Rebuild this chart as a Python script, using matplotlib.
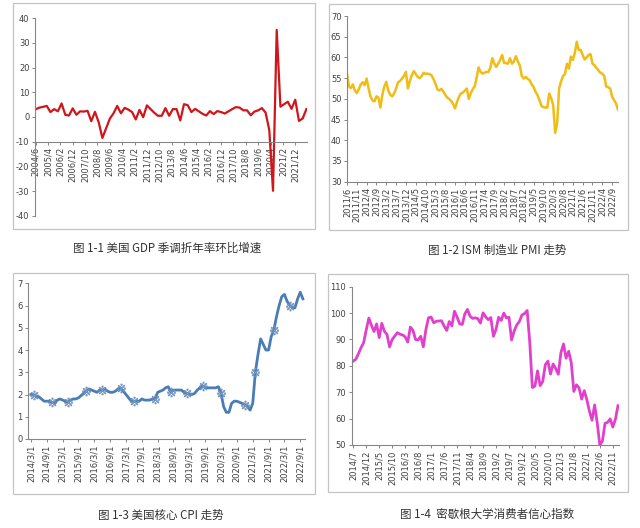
import matplotlib
matplotlib.use("Agg")
import matplotlib.pyplot as plt
from matplotlib.patches import Rectangle

plt.rcParams['font.family'] = ['DejaVu Sans']
plt.rcParams['axes.unicode_minus'] = False

# ---------- DATA ----------

# US GDP, QoQ SAAR (%), quarterly from 2004/6
gdp_start = (2004, 6)
gdp_values = [
    3.1, 3.8, 4.1,
    4.5, 2.0, 3.2, 2.3,
    5.5, 0.9, 0.6, 3.5,
    0.9, 2.3, 2.2, 2.5,
    -1.7, 2.1, -2.1, -8.5,
    -4.6, -0.7, 1.5, 4.5,
    1.5, 3.7, 3.0, 2.0,
    -1.0, 2.9, -0.1, 4.7,
    3.2, 1.7, 0.5, 0.5,
    3.6, 0.5, 3.2, 3.2,
    -1.4, 5.2, 4.8, 2.0,
    3.3, 2.3, 1.3, 0.6,
    2.4, 1.2, 2.4, 2.0,
    1.4, 2.3, 3.2, 4.0,
    3.8, 2.7, 2.7, 0.7,
    2.2, 2.7, 3.6, 1.8,
    -5.3, -29.9, 35.3, 4.2,
    5.2, 6.2, 3.3, 7.0,
    -1.6, -0.6, 3.2,
]

# ISM manufacturing PMI, monthly from 2011/6
pmi_start = (2011, 6)
pmi_values = [
    56.0, 53.0, 52.6, 53.5, 52.0, 51.4, 52.3,
    53.5, 54.0, 53.3, 54.9, 52.5, 50.5, 49.6, 49.4, 50.6, 50.3, 47.9, 51.0,
    53.0, 54.1, 52.0, 51.0, 50.6, 51.3, 52.5, 54.0, 54.3, 54.9, 55.5, 56.5,
    52.5, 54.3, 55.7, 56.7, 56.0, 55.3, 55.0, 55.5, 56.3, 56.0, 56.1, 56.0,
    55.7, 54.8, 53.7, 52.3, 52.0, 52.4, 51.8, 51.0, 50.3, 50.0, 49.5, 48.8,
    47.7, 49.2, 50.5, 51.3, 51.5, 52.0, 52.5, 50.0, 51.3, 52.3, 53.0, 55.0,
    57.6, 56.5, 56.1, 56.3, 56.5, 56.5, 57.5, 59.8, 58.5, 57.7, 58.5, 59.4,
    60.6, 58.7, 58.6, 58.5, 59.8, 58.5, 59.0, 60.3, 59.0, 58.1, 55.5, 54.9,
    55.3, 54.8, 54.5, 53.5, 52.9, 51.7, 50.9, 49.7, 48.3, 48.0, 47.9, 47.9,
    51.3, 50.1, 48.5, 41.8, 44.0, 52.5, 54.2, 55.5, 56.0, 58.5, 57.3, 60.2,
    59.4, 61.0, 63.8, 61.8, 61.8, 60.6, 59.5, 60.0, 60.6, 60.8, 58.5, 58.1,
    57.5, 56.9, 56.3, 56.1, 55.5, 53.0, 52.8, 52.5, 50.5, 49.7, 48.9, 47.4,
]

# US core CPI YoY (%), monthly from 2014/3
cpi_start = (2014, 3)
cpi_values = [
    2.0, 2.0, 1.9, 1.9, 1.8, 1.7, 1.7, 1.7, 1.65, 1.6,
    1.75, 1.8, 1.75, 1.7, 1.65, 1.75, 1.8, 1.8, 1.85, 1.95, 2.05, 2.15,
    2.25, 2.2, 2.15, 2.1, 2.2, 2.2, 2.25, 2.15, 2.1, 2.1, 2.15, 2.25,
    2.3, 2.15, 2.0, 1.85, 1.7, 1.7, 1.7, 1.7, 1.8, 1.75, 1.75, 1.75,
    1.8, 1.8, 2.1, 2.15, 2.2, 2.3, 2.35, 2.1, 2.2, 2.2, 2.2, 2.2,
    2.1, 2.05, 2.0, 2.0, 2.05, 2.2, 2.3, 2.4, 2.3, 2.3, 2.3, 2.3,
    2.3, 2.35, 2.05, 1.45, 1.2, 1.2, 1.6, 1.7, 1.7, 1.65, 1.6, 1.55,
    1.45, 1.3, 1.6, 3.0, 3.8, 4.5, 4.25, 4.0, 4.0, 4.6, 4.9, 5.5,
    6.0, 6.4, 6.5, 6.2, 6.0, 5.9, 5.9, 6.3, 6.6, 6.3,
]
cpi_marker_idx = [1, 8, 14, 21, 27, 34, 39, 47, 53, 59, 65, 72, 81, 85, 92, 98]

# University of Michigan consumer sentiment, monthly from 2014/7
umich_start = (2014, 7)
umich_values = [
    81.8, 82.5, 84.6, 86.9, 88.8, 93.6,
    98.1, 95.4, 93.0, 95.9, 90.7, 96.1, 93.1, 91.9, 87.2, 90.0, 91.3, 92.6,
    92.0, 91.7, 91.0, 89.0, 94.7, 93.5, 90.0, 89.8, 91.2, 87.2, 93.8, 98.2,
    98.5, 96.3, 96.9, 97.0, 97.1, 95.1, 93.4, 96.8, 95.1, 100.7, 98.5, 95.9,
    95.7, 99.7, 101.4, 98.8, 98.0, 98.2, 97.9, 96.2, 100.1, 98.6, 97.5, 98.3,
    91.2, 93.8, 98.4, 97.2, 100.0, 98.2, 98.4, 89.8, 93.2, 95.5, 96.8, 99.3,
    99.8, 101.0, 89.1, 71.8, 72.3, 78.1, 72.5, 74.1, 80.4, 81.8, 76.9, 80.7,
    79.0, 76.8, 84.9, 88.3, 82.9, 85.5, 81.2, 70.3, 72.8, 71.7, 67.4, 70.6,
    67.2, 62.8, 59.4, 65.2, 58.4, 50.0, 51.5, 58.2, 58.6, 59.9, 56.8, 59.7,
    64.9,
]

captions = [
    "图 1-1 美国 GDP 季调折年率环比增速",
    "图 1-2 ISM 制造业 PMI 走势",
    "图 1-3 美国核心 CPI 走势",
    "图 1-4  密歇根大学消费者信心指数",
]

# ---------- HELPERS ----------

W, H = 640, 528
AXIS_GRAY = '#868686'
LABEL_GRAY = '#404040'


def px_axes(fig, left, top, right, bottom):
    return fig.add_axes([left / W, 1 - bottom / H, (right - left) / W, (bottom - top) / H])


def frame(fig, left, top, right, bottom):
    fig.add_artist(Rectangle((left / W, 1 - bottom / H), (right - left) / W, (bottom - top) / H,
                             transform=fig.transFigure, fill=False,
                             edgecolor='#C4C4C4', linewidth=0.9))


def month_label(start, m, suffix=""):
    y, mo = start
    k = (mo - 1) + m
    return f"{y + k // 12}/{k % 12 + 1}{suffix}"


def style_axes(ax, ticks, start, suffix=""):
    for s in ['top', 'right']:
        ax.spines[s].set_visible(False)
    for s in ['left', 'bottom']:
        ax.spines[s].set_color(AXIS_GRAY)
        ax.spines[s].set_linewidth(0.8)
    ax.set_xticks(ticks)
    ax.set_xticklabels([month_label(start, m, suffix) for m in ticks], rotation=90)
    ax.tick_params(labelsize=6, colors=AXIS_GRAY, labelcolor=LABEL_GRAY,
                   length=2.5, width=0.7, pad=1.5)
    ax.patch.set_alpha(0)


# ---------- PLOT ----------

fig = plt.figure(figsize=(W / 100, H / 100), dpi=100)

for box in [(13, 3, 315, 229), (329, 4, 628, 230), (13, 273, 315, 494), (328, 274, 628, 492)]:
    frame(fig, *box)

# Panel 1: GDP (horizontal axis crosses at -10)
ax1 = px_axes(fig, 35, 18.3, 307, 215.7)
ax1.spines['bottom'].set_position(('data', -10))
gdp_x = [3 * i for i in range(len(gdp_values))]
ax1.plot(gdp_x, gdp_values, color='#D0161B', linewidth=1.6)
ax1.set_ylim(-40, 40)
ax1.set_yticks(range(-40, 41, 10))
ax1.set_xlim(-0.5, gdp_x[-1] + 0.5)
style_axes(ax1, list(range(0, 211, 10)), gdp_start)

# Panel 2: ISM PMI
ax2 = px_axes(fig, 347, 16, 618, 181.7)
pmi_x = list(range(len(pmi_values)))
ax2.plot(pmi_x, pmi_values, color='#F0BC16', linewidth=1.8)
ax2.set_ylim(30, 70)
ax2.set_yticks(range(30, 71, 5))
ax2.set_xlim(0, pmi_x[-1])
style_axes(ax2, list(range(0, 136, 5)), pmi_start)

# Panel 3: core CPI
ax3 = px_axes(fig, 28, 283.3, 305, 439)
cpi_x = list(range(len(cpi_values)))
ax3.plot(cpi_x, cpi_values, color='#4A7DB5', linewidth=2.0)
ax3.plot([cpi_x[i] for i in cpi_marker_idx], [cpi_values[i] for i in cpi_marker_idx],
         linestyle='none', marker='$※$', markersize=6.5,
         markerfacecolor='#8CA6C8', markeredgecolor='#5B85B8', markeredgewidth=0.4)
ax3.set_ylim(0, 7)
ax3.set_yticks(range(0, 8))
ax3.set_xlim(-1.1, 103.8)
style_axes(ax3, list(range(0, 103, 6)), cpi_start, "/1")

# Panel 4: Michigan sentiment
ax4 = px_axes(fig, 351.7, 286.7, 618.5, 445)
umich_x = list(range(len(umich_values)))
ax4.plot(umich_x, umich_values, color='#E040CC', linewidth=2.0)
ax4.set_ylim(50, 110)
ax4.set_yticks(range(50, 111, 10))
ax4.set_xlim(-0.6, umich_x[-1] + 0.2)
style_axes(ax4, list(range(0, 101, 5)), umich_start)

# captions
cap_pos = [(167, 248), (497, 250), (161, 515), (487, 514)]
for text, (cx, cy) in zip(captions, cap_pos):
    fig.text(cx / W, 1 - cy / H, text, ha='center', va='center', fontsize=8.3,
             color='#333333', family=['Noto Sans CJK SC', 'DejaVu Sans'])

fig.savefig("out.png", dpi=100)
